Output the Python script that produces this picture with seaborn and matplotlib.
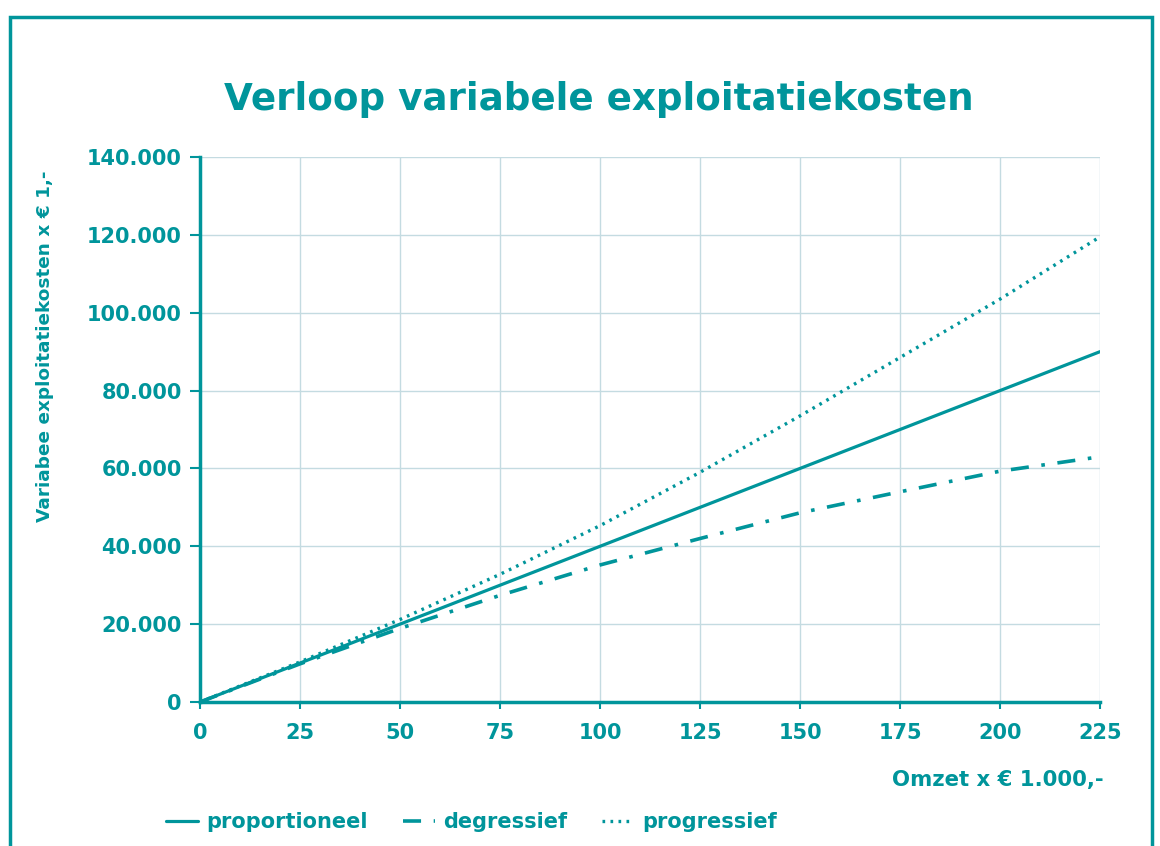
import seaborn as sns
import pandas as pd
import matplotlib.pyplot as plt
from matplotlib.patches import Rectangle

# omzet in thousands of euros, costs in euros
omzet = [0, 25, 50, 75, 100, 125, 150, 175, 200, 225]
proportioneel = [0, 10000, 20000, 30000, 40000, 50000, 60000, 70000, 80000, 90000]
degressief = [0, 9800, 18900, 27400, 35200, 42000, 48600, 54000, 59300, 63000]
progressief = [0, 10300, 21200, 32800, 45300, 59000, 73500, 88500, 103500, 119500]
y_ticks = [0, 20000, 40000, 60000, 80000, 100000, 120000, 140000]
y_ticklabels = ['0', '20.000', '40.000', '60.000', '80.000', '100.000', '120.000', '140.000']

teal = '#00959b'
grid_col = '#c4dbe1'

sns.set_style('white')
plt.rcParams['font.family'] = ['DejaVu Sans']

fig = plt.figure(figsize=(11.6, 8.46), dpi=100)
ax = fig.add_axes([0.1724, 0.1702, 0.7759, 0.6442])

sns.lineplot(x=omzet, y=proportioneel, color=teal, linewidth=2.3,
             label='proportioneel', ax=ax)
sns.lineplot(x=omzet, y=degressief, color=teal, linewidth=2.6,
             linestyle=(0, (5, 3.5, 1, 3.5)), label='degressief', ax=ax)
sns.lineplot(x=omzet, y=progressief, color=teal, linewidth=2.4,
             linestyle=(0, (0.8, 1.6)), label='progressief', ax=ax)

ax.set_xlim(0, 225)
ax.set_ylim(0, 140000)
ax.set_xticks(omzet)
ax.set_yticks(y_ticks)
ax.set_yticklabels(y_ticklabels)
ax.grid(True, color=grid_col, linewidth=1.0)
ax.set_axisbelow(True)

for s in ['top', 'right']:
    ax.spines[s].set_visible(False)
for s in ['left', 'bottom']:
    ax.spines[s].set_color(teal)
    ax.spines[s].set_linewidth(2.5)

ax.tick_params(axis='y', colors=teal, length=7, width=1.5, direction='out',
               labelsize=15, pad=6, left=True)
ax.tick_params(axis='x', colors=teal, length=5, width=1.5, direction='out',
               labelsize=15, pad=10, bottom=True)
for lab in ax.get_xticklabels() + ax.get_yticklabels():
    lab.set_fontweight('bold')

ax.set_ylabel('Variabee exploitatiekosten x € 1,-', color=teal, fontsize=13.3,
              fontweight='bold')
ax.yaxis.set_label_coords(-0.162, 0.653)
ax.set_xlabel('')
fig.text(0.951, 0.078, 'Omzet x € 1.000,-', color=teal, fontsize=15.3,
         fontweight='bold', ha='right', va='center')

fig.text(0.5165, 0.882, 'Verloop variabele exploitatiekosten', color=teal,
         fontsize=26.8, fontweight='bold', ha='center', va='center')

leg = ax.legend(loc='center left', bbox_to_anchor=(0.127, 0.028),
                bbox_transform=fig.transFigure, ncol=3, frameon=False,
                handlelength=1.55, handletextpad=0.4, columnspacing=1.65,
                prop={'weight': 'bold', 'size': 15})
for t in leg.get_texts():
    t.set_color(teal)

# frame around the chart (bottom edge outside the image)
fig.patches.append(Rectangle((0.009, -0.05), 0.984, 1.03,
                             transform=fig.transFigure, fill=False,
                             edgecolor=teal, linewidth=2.5))

fig.savefig('out.png', dpi=100)
